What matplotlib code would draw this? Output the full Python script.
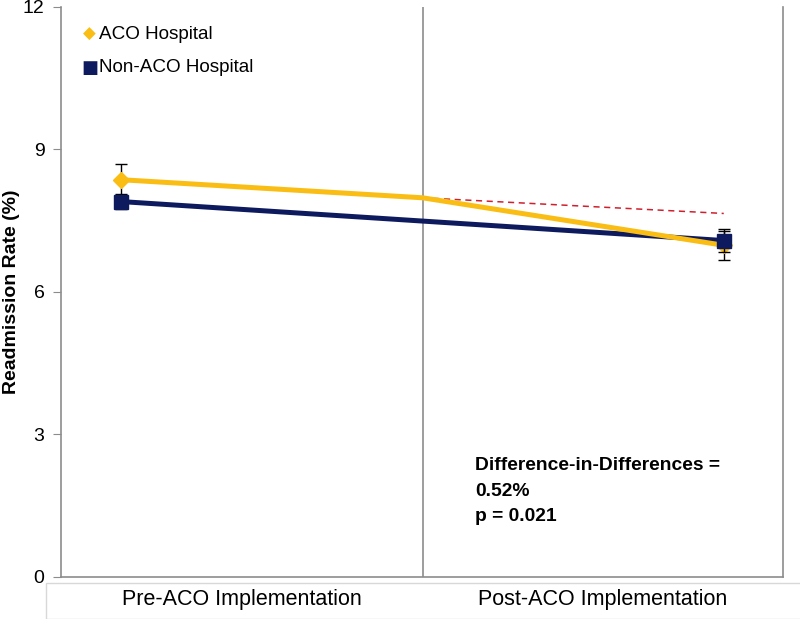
import matplotlib
matplotlib.use('Agg')
import matplotlib.pyplot as plt
from matplotlib.patches import Rectangle

plt.rcParams['font.family'] = ['Liberation Sans', 'DejaVu Sans']

# data
periods = ["Pre-ACO Implementation", "Post-ACO Implementation"]
aco_rate = [8.36, 6.98]
aco_err = [0.33, 0.30]
aco_mid = 7.98          # ACO value at the implementation boundary
non_aco_rate = [7.90, 7.08]
non_aco_err = [0.15, 0.25]
expected_post = 7.65    # counterfactual trend for ACO hospitals
annot_text = "Difference-in-Differences =\n0.52%\np = 0.021"

ACO_COLOR = "#F9BD14"
NON_ACO_COLOR = "#0E1A5E"
GRAY = "#8C8C8C"

fig = plt.figure(figsize=(8, 6.19), dpi=100)
ax = fig.add_axes([0.0765, 0.068, 0.902, 0.921])

x_pts = [0, 1]
x_mid = 0.5

# boundary line between periods
ax.axvline(x_mid, color=GRAY, lw=1.2, zorder=1)

# counterfactual dashed line
ax.plot([x_mid, 1], [aco_mid, expected_post], color="#D0202E", lw=1.1,
        ls=(0, (4, 3)), zorder=2)

# non-ACO line
ax.plot(x_pts, non_aco_rate, color=NON_ACO_COLOR, lw=3.6, zorder=3)

# ACO (bends at boundary)
ax.plot([0, x_mid, 1], [aco_rate[0], aco_mid, aco_rate[1]],
        color=ACO_COLOR, lw=3.6, zorder=5)
ax.errorbar(x_pts, aco_rate, yerr=aco_err, fmt='D', ms=8.5,
            color=ACO_COLOR, ecolor='black', elinewidth=1, capsize=4,
            capthick=1, zorder=6)

# non-ACO markers on top
ax.errorbar(x_pts, non_aco_rate, yerr=non_aco_err, fmt='s', ms=9.5,
            color=NON_ACO_COLOR, ecolor='black', elinewidth=1, capsize=4,
            capthick=1, zorder=7)

ax.set_xlim(-0.1, 1.098)
ax.set_ylim(0, 12)
ax.set_yticks([0, 3, 6, 9, 12])
ax.tick_params(axis='y', labelsize=14, length=6, color=GRAY, direction='out', pad=6)
ax.set_xticks([])
for s in ['left', 'right']:
    ax.spines[s].set_color(GRAY)
    ax.spines[s].set_linewidth(1.2)
ax.spines['top'].set_visible(False)
ax.spines['bottom'].set_color(GRAY)
ax.spines['bottom'].set_linewidth(1.2)
fig.text(0.014, 0.528, "Readmission Rate (%)", fontsize=14, fontweight='bold',
         rotation=90, ha='center', va='center')

# category label box
box = Rectangle((0.058, 0.0), 0.95, 0.058, transform=fig.transFigure,
                facecolor='white', edgecolor='#D8D8D8', lw=1, zorder=10,
                clip_on=False)
ax.add_patch(box)
label_x = [(-0.1 + x_mid) / 2, (x_mid + 1.098) / 2]
for lx, lab in zip(label_x, periods):
    ax.text(lx, -0.040, lab, transform=ax.get_xaxis_transform(),
            ha='center', va='center', fontsize=15.5, zorder=11, clip_on=False)

# legend
ax.text(-0.053, 11.42, "\u25c6", color=ACO_COLOR, fontsize=12,
        ha='center', va='center', family='DejaVu Sans')
ax.text(-0.038, 11.42, "ACO Hospital", fontsize=13.6, ha='left', va='center')
ax.text(-0.053, 10.72, "\u25a0", color=NON_ACO_COLOR, fontsize=13,
        ha='center', va='center', family='DejaVu Sans')
ax.text(-0.037, 10.72, "Non-ACO Hospital", fontsize=13.6, ha='left', va='center')

ax.text(0.587, 2.52, annot_text, fontsize=13.9, fontweight='bold',
        ha='left', va='top', linespacing=1.65)

fig.savefig("out.png", dpi=100, facecolor='white')
